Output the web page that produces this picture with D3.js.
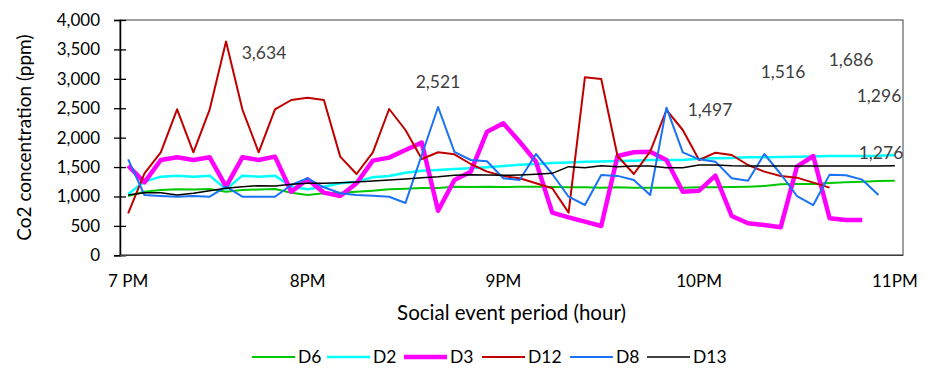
<!DOCTYPE html>
<html>
<head>
<meta charset="utf-8">
<script src="https://cdn.jsdelivr.net/npm/d3@7"></script>
<style>
  body { margin: 0; background: #fff; }
  text { font-family: Lato, "Open Sans", sans-serif; }
</style>
</head>
<body>
<div id="chart"></div>
<script>
// 5-minute slots, 7 PM to 11 PM (48 categories)
var slotCount = 48;
var tickSlots = [0, 11, 23, 35, 47];
var tickLabels = ["7 PM", "8PM", "9PM", "10PM", "11PM"];
var yTicks = [0, 500, 1000, 1500, 2000, 2500, 3000, 3500, 4000];

var seriesNames = ["D6", "D2", "D3", "D12", "D8", "D13"];

var d6 = [1008, 1081, 1110, 1122, 1118, 1127, 1081, 1110, 1118, 1127, 1065, 1025,
          1054, 1065, 1081, 1099, 1122, 1133, 1144, 1144, 1167, 1160, 1167, 1160,
          1167, 1167, 1160, 1156, 1156, 1150, 1156, 1150, 1150, 1150, 1150, 1156,
          1156, 1160, 1167, 1178, 1207, 1212, 1212, 1230, 1241, 1252, 1263, 1269];

var d2 = [1042, 1252, 1337, 1354, 1337, 1354, 1122, 1354, 1337, 1354, 1167, 1122,
          1167, 1224, 1252, 1326, 1348, 1405, 1439, 1450, 1467, 1478, 1495, 1518,
          1540, 1552, 1570, 1578, 1592, 1595, 1603, 1609, 1620, 1620, 1620, 1640,
          1648, 1655, 1665, 1665, 1670, 1677, 1680, 1688, 1688, 1690, 1694, 1705];

var d3s = [1523, 1241, 1620, 1666, 1620, 1666, 1166, 1666, 1620, 1677, 1081, 1292,
           1065, 1008, 1224, 1609, 1660, 1790, 1915, 758, 1280, 1422, 2102, 2244,
           1930, 1592, 725, 646, 572, 498, 1688, 1751, 1762, 1620, 1081, 1099,
           1354, 668, 544, 515, 476, 1507, 1688, 629, 600, 600, null, null];

var d12 = [714, 1394, 1751, 2482, 1751, 2482, 3634, 2482, 1751, 2482, 2640, 2680,
           2640, 1677, 1382, 1751, 2487, 2130, 1637, 1751, 1717, 1552, 1422, 1348,
           1309, 1224, 1139, 725, 3026, 2997, 1688, 1382, 1762, 2470, 2130, 1620,
           1745, 1705, 1535, 1422, 1348, 1320, 1235, 1150, null, null, null, null];

var d8 = [1632, 1025, 1008, 996, 1008, 996, 1167, 996, 996, 996, 1195, 1309,
          1156, 1054, 1025, 1014, 996, 890, 1705, 2521, 1757, 1620, 1598, 1309,
          1280, 1722, 1382, 996, 855, 1365, 1350, 1280, 1025, 2510, 1751, 1632,
          1592, 1309, 1269, 1722, 1382, 1008, 855, 1371, 1360, 1286, 1025, null];

var d13 = [1025, 1065, 1065, 1025, 1054, 1099, 1139, 1167, 1184, 1178, 1207, 1224,
           1224, 1235, 1246, 1263, 1280, 1297, 1320, 1336, 1360, 1370, 1365, 1360,
           1365, 1376, 1393, 1507, 1490, 1524, 1507, 1518, 1518, 1490, 1490, 1535,
           1535, 1524, 1520, 1520, 1520, 1520, 1520, 1520, 1520, 1520, 1520, 1523];

var dataLabels = ["3,634", "2,521", "1,497", "1,516", "1,686", "1,296", "1,276"];

var seriesValues = [d6, d2, d3s, d12, d8, d13];
var seriesColors = ["#00c800", "#00ffff", "#ff00ff", "#c00000", "#1a72f5", "#000000"];
var seriesWidths = [2, 2.5, 4.5, 2, 2, 1.5];

var width = 931, height = 371;
var margin = { top: 20, right: 28, bottom: 115.7, left: 120 };
var plotW = width - margin.left - margin.right;
var plotH = height - margin.top - margin.bottom;

var svg = d3.select("#chart").append("svg")
    .attr("width", width)
    .attr("height", height);

svg.append("rect").attr("width", width).attr("height", height).attr("fill", "#fff");

var g = svg.append("g")
    .attr("transform", "translate(" + margin.left + "," + margin.top + ")");

var x = d3.scalePoint().domain(d3.range(slotCount)).range([0, plotW]).padding(0.5);
var y = d3.scaleLinear().domain([0, 4000]).range([plotH, 0]);

// plot frame
g.append("rect")
    .attr("width", plotW).attr("height", plotH)
    .attr("fill", "none").attr("stroke", "#404040").attr("stroke-width", 1);

// y axis with ticks crossing the line
var yAxis = g.append("g")
    .call(d3.axisLeft(y).tickValues(yTicks).tickSize(6).tickFormat(d3.format(",")));
yAxis.select(".domain").attr("stroke", "#000").attr("stroke-width", 1.5);
yAxis.selectAll(".tick line").attr("x1", -6).attr("x2", 6).attr("stroke", "#000").attr("stroke-width", 1.3);
yAxis.selectAll(".tick text")
    .attr("x", -20).attr("font-size", 17).attr("fill", "#000")
    .style("font-family", "Lato, sans-serif");

// x axis
g.append("line")
    .attr("x1", 0).attr("x2", plotW).attr("y1", plotH).attr("y2", plotH)
    .attr("stroke", "#404040").attr("stroke-width", 1.5);

g.selectAll(".xlab")
    .data(tickSlots)
    .enter().append("text")
    .attr("class", "xlab")
    .attr("x", d => x(d))
    .attr("y", plotH + 32)
    .attr("text-anchor", "middle")
    .attr("font-size", 17)
    .text((d, i) => tickLabels[i]);

// axis titles
svg.append("text")
    .attr("x", margin.left + plotW / 2)
    .attr("y", 320)
    .attr("text-anchor", "middle")
    .attr("font-size", 20.5)
    .text("Social event period (hour)");

svg.append("text")
    .attr("transform", "translate(31," + (margin.top + plotH / 2) + ") rotate(-90)")
    .attr("text-anchor", "middle")
    .attr("font-size", 19)
    .text("Co2 concentration (ppm)");

// lines
var line = d3.line()
    .defined(d => d != null)
    .x((d, i) => x(i))
    .y(d => y(d));

seriesValues.forEach(function (vals, k) {
    g.append("path")
        .datum(vals)
        .attr("fill", "none")
        .attr("stroke", seriesColors[k])
        .attr("stroke-width", seriesWidths[k])
        .attr("stroke-linejoin", "round")
        .attr("d", line);
});

// free-floating value labels
var labelPos = [[264, 53], [438, 81.5], [710, 110], [783, 72], [851, 60], [879, 95.5], [881, 153]];
svg.selectAll(".vlab")
    .data(dataLabels)
    .enter().append("text")
    .attr("class", "vlab")
    .attr("x", (d, i) => labelPos[i][0])
    .attr("y", (d, i) => labelPos[i][1])
    .attr("dy", "0.35em")
    .attr("text-anchor", "middle")
    .attr("font-size", 17.5)
    .attr("fill", "#404040")
    .text(d => d);

// legend
var legendX = [252, 327, 404, 482, 570, 647];
var leg = svg.append("g").attr("transform", "translate(0,357)");
seriesNames.forEach(function (name, k) {
    leg.append("line")
        .attr("x1", legendX[k]).attr("x2", legendX[k] + 43)
        .attr("y1", 0).attr("y2", 0)
        .attr("stroke", seriesColors[k])
        .attr("stroke-width", seriesWidths[k]);
    leg.append("text")
        .attr("x", legendX[k] + 46)
        .attr("y", 0)
        .attr("dy", "0.35em")
        .attr("font-size", 17.5)
        .text(name);
});
</script>
</body>
</html>
